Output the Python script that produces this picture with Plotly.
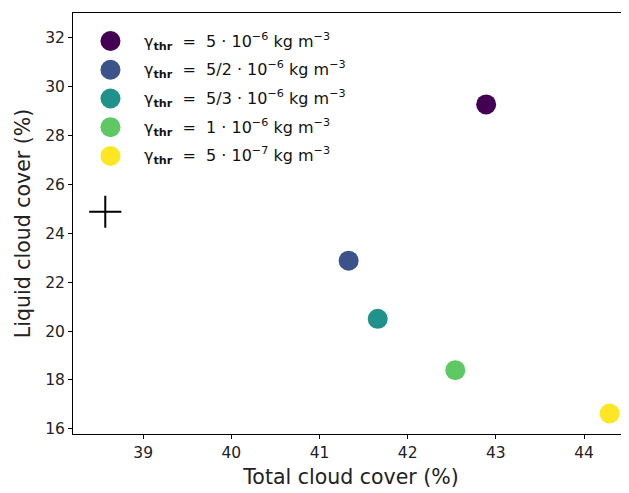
import plotly.graph_objects as go

# Data
total_cover = [42.89, 41.33, 41.66, 42.54, 44.29]
liquid_cover = [29.27, 22.88, 20.50, 18.40, 16.63]
colors = ["#440154", "#3b528b", "#21918c", "#5ec962", "#fde725"]
labels = [
    "γ<sub><b>thr</b></sub>  =  5 · 10<sup>−6</sup> kg m<sup>−3</sup>",
    "γ<sub><b>thr</b></sub>  =  5/2 · 10<sup>−6</sup> kg m<sup>−3</sup>",
    "γ<sub><b>thr</b></sub>  =  5/3 · 10<sup>−6</sup> kg m<sup>−3</sup>",
    "γ<sub><b>thr</b></sub>  =  1 · 10<sup>−6</sup> kg m<sup>−3</sup>",
    "γ<sub><b>thr</b></sub>  =  5 · 10<sup>−7</sup> kg m<sup>−3</sup>",
]
ref_x = [38.57]
ref_y = [24.88]

OFF = 8  # page body margin
W, H = 629 - OFF, 493 - OFF
ml, mr, mt, mb = 72.5 - OFF, 0, 13 - OFF, 59.3
pw = W - ml - mr
ph = H - mt - mb

fig = go.Figure()
for x, y, c, lab in zip(total_cover, liquid_cover, colors, labels):
    fig.add_trace(go.Scatter(x=[x], y=[y], mode="markers", name=lab,
                             marker=dict(size=20, color=c, line=dict(width=0)),
                             showlegend=False))
fig.add_trace(go.Scatter(x=ref_x, y=ref_y, mode="markers", showlegend=False,
                         marker=dict(symbol="cross-thin", size=23,
                                     line=dict(width=2, color="black"))))

# custom legend
for i, (c, lab) in enumerate(zip(colors, labels)):
    ypix = 41 + 28.7 * i - OFF
    yp = (H - mb - ypix) / ph
    xp = (110 - OFF - ml) / pw
    fig.add_shape(type="circle", xref="paper", yref="paper",
                  xsizemode="pixel", ysizemode="pixel",
                  xanchor=xp, yanchor=yp, x0=-10, x1=10, y0=-10, y1=10,
                  fillcolor=c, line=dict(width=0))
    fig.add_annotation(xref="paper", yref="paper", x=(142 - OFF - ml) / pw, y=yp,
                       text=lab, showarrow=False, xanchor="left", yanchor="middle",
                       font=dict(size=16, color="#111", family="DejaVu Sans"))

axis_common = dict(showgrid=False, zeroline=False, showline=True, linecolor="black",
                   linewidth=1, ticks="outside", ticklen=4, tickcolor="black",
                   tickfont=dict(size=15.5, color="#222", family="DejaVu Sans"))
fig.update_xaxes(range=[38.204, 44.51], tickvals=[39, 40, 41, 42, 43, 44], mirror=True,
                 title=dict(text="Total cloud cover (%)", font=dict(size=20.5, color="#222"), standoff=9),
                 **axis_common)
fig.update_yaxes(range=[15.79, 33.01], tickvals=[16, 18, 20, 22, 24, 26, 28, 30, 32],
                 title=dict(text="Liquid cloud cover (%)", font=dict(size=20.5, color="#222"), standoff=8),
                 **axis_common)
fig.update_layout(width=W, height=H, margin=dict(l=ml, r=mr, t=mt, b=mb),
                  plot_bgcolor="white", paper_bgcolor="white",
                  font=dict(family="DejaVu Sans", color="#222"))
fig.write_html("out.html")
